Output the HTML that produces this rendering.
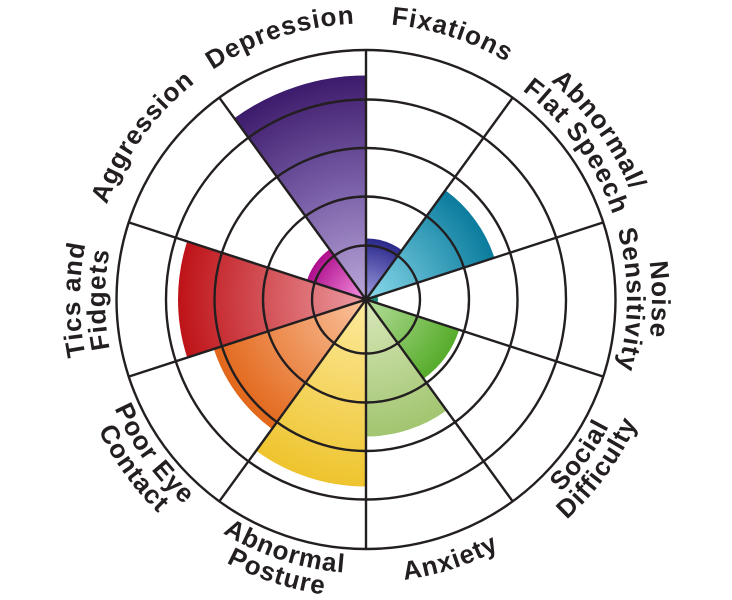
<!DOCTYPE html>
<html>
<head>
<meta charset="utf-8">
<style>
  html,body{margin:0;padding:0;background:#fff;}
  svg{display:block;}
  .lbl{font-family:"Liberation Sans",Arial,sans-serif;font-weight:bold;font-size:26px;fill:#231f20;letter-spacing:1px;}
</style>
</head>
<body>
<svg width="732" height="600" viewBox="0 0 732 600" xmlns="http://www.w3.org/2000/svg">
  <defs>
    <radialGradient id="gPur" gradientUnits="userSpaceOnUse" cx="366" cy="299.5" r="224">
      <stop offset="0" stop-color="#bba8d9"/>
      <stop offset="0.5" stop-color="#7b61a9"/>
      <stop offset="1" stop-color="#3d1b6c"/>
    </radialGradient>
    <radialGradient id="gInd" gradientUnits="userSpaceOnUse" cx="366" cy="299.5" r="61">
      <stop offset="0" stop-color="#a09ee2"/>
      <stop offset="1" stop-color="#2a288a"/>
    </radialGradient>
    <radialGradient id="gTeal" gradientUnits="userSpaceOnUse" cx="366" cy="299.5" r="135">
      <stop offset="0" stop-color="#8cdaec"/>
      <stop offset="1" stop-color="#0a7c9d"/>
    </radialGradient>
    <radialGradient id="gGrn" gradientUnits="userSpaceOnUse" cx="366" cy="299.5" r="98">
      <stop offset="0" stop-color="#b6de9c"/>
      <stop offset="1" stop-color="#56ac2a"/>
    </radialGradient>
    <radialGradient id="gLgr" gradientUnits="userSpaceOnUse" cx="366" cy="299.5" r="137">
      <stop offset="0" stop-color="#d9e8bb"/>
      <stop offset="1" stop-color="#a2c570"/>
    </radialGradient>
    <radialGradient id="gYel" gradientUnits="userSpaceOnUse" cx="366" cy="299.5" r="187">
      <stop offset="0" stop-color="#fdea9e"/>
      <stop offset="1" stop-color="#eec42e"/>
    </radialGradient>
    <radialGradient id="gOra" gradientUnits="userSpaceOnUse" cx="366" cy="299.5" r="160">
      <stop offset="0" stop-color="#fbc39e"/>
      <stop offset="1" stop-color="#e2671a"/>
    </radialGradient>
    <radialGradient id="gRed" gradientUnits="userSpaceOnUse" cx="366" cy="299.5" r="188">
      <stop offset="0" stop-color="#ec9ca2"/>
      <stop offset="1" stop-color="#be1318"/>
    </radialGradient>
    <radialGradient id="gMag" gradientUnits="userSpaceOnUse" cx="366" cy="299.5" r="62">
      <stop offset="0" stop-color="#f796e2"/>
      <stop offset="1" stop-color="#ae0e8c"/>
    </radialGradient>

    <path id="cw276" d="M 126.98 161.5 A 276 276 0 0 1 605.02 161.5"/>
    <path id="cw261" d="M 139.97 169 A 261 261 0 0 1 592.03 169"/>
    <path id="cw286" d="M 118.32 156.5 A 286 286 0 0 1 613.68 156.5"/>
    <path id="ccw283" d="M 120.92 441 A 283 283 0 0 0 611.08 441"/>
    <path id="ccw274" d="M 128.72 436.5 A 274 274 0 0 0 603.28 436.5"/>
    <path id="ccw298" d="M 107.93 448.5 A 298 298 0 0 0 624.07 448.5"/>
  </defs>

  <!-- wedges -->
  <path d="M366 299.5 L234.33 118.28 A224 224 0 0 1 366 75.5 Z" fill="url(#gPur)"/>
  <path d="M366 299.5 L366 238.5 A61 61 0 0 1 401.86 250.15 Z" fill="url(#gInd)"/>
  <path d="M366 299.5 L445.35 190.3 A135 135 0 0 1 494.4 257.8 Z" fill="url(#gTeal)"/>
  <path d="M366 299.5 L377.41 295.79 A12 12 0 0 1 377.41 303.21 Z" fill="#1f8a7a"/>
  <path d="M366 299.5 L459.2 329.78 A98 98 0 0 1 423.6 378.78 Z" fill="url(#gGrn)"/>
  <path d="M366 299.5 L446.53 410.33 A137 137 0 0 1 366 436.5 Z" fill="url(#gLgr)"/>
  <path d="M366 299.5 L366 486.5 A187 187 0 0 1 256.08 450.78 Z" fill="url(#gYel)"/>
  <path d="M366 299.5 L271.95 428.94 A160 160 0 0 1 213.82 348.94 Z" fill="url(#gOra)"/>
  <path d="M366 299.5 L187.2 357.59 A188 188 0 0 1 187.2 241.41 Z" fill="url(#gRed)"/>
  <path d="M366 299.5 L307.03 280.34 A62 62 0 0 1 329.56 249.34 Z" fill="url(#gMag)"/>

  <!-- grid -->
  <g fill="none" stroke="#231f20" stroke-width="2.4">
    <circle cx="366" cy="299.5" r="54"/>
    <circle cx="366" cy="299.5" r="103"/>
    <circle cx="366" cy="299.5" r="151.5"/>
    <circle cx="366" cy="299.5" r="200"/>
    <circle cx="366" cy="299.5" r="249.5"/>
    <line x1="366" y1="50" x2="366" y2="549"/>
    <line x1="512.66" y1="97.65" x2="219.34" y2="501.35"/>
    <line x1="603.3" y1="222.4" x2="128.7" y2="376.6"/>
    <line x1="603.3" y1="376.6" x2="128.7" y2="222.4"/>
    <line x1="512.66" y1="501.35" x2="219.34" y2="97.65"/>
  </g>
  <circle cx="366" cy="299.5" r="3" fill="#231f20"/>

  <!-- labels -->
  <g class="lbl">
    <text transform="rotate(-18 366 299.5)"><textPath href="#cw276" startOffset="50%" text-anchor="middle">Depression</textPath></text>
    <text transform="rotate(18 366 299.5)"><textPath href="#cw276" startOffset="50%" text-anchor="middle">Fixations</textPath></text>

    <text transform="rotate(54 366 299.5)"><textPath href="#cw286" startOffset="50%" text-anchor="middle">Abnormal/</textPath></text>
    <text transform="rotate(54 366 299.5)"><textPath href="#cw261" startOffset="50%" text-anchor="middle">Flat Speech</textPath></text>

    <text transform="rotate(90 366 299.5)"><textPath href="#cw286" startOffset="50%" text-anchor="middle">Noise</textPath></text>
    <text transform="rotate(90 366 299.5)"><textPath href="#cw261" startOffset="50%" text-anchor="middle">Sensitivity</textPath></text>

    <text transform="rotate(-54 366 299.5)"><textPath href="#ccw274" startOffset="50%" text-anchor="middle">Social</textPath></text>
    <text transform="rotate(-54 366 299.5)"><textPath href="#ccw298" startOffset="50%" text-anchor="middle">Difficulty</textPath></text>

    <text transform="rotate(-18 366 299.5)"><textPath href="#ccw283" startOffset="50%" text-anchor="middle">Anxiety</textPath></text>

    <text transform="rotate(18 366 299.5)"><textPath href="#ccw274" startOffset="50%" text-anchor="middle">Abnormal</textPath></text>
    <text transform="rotate(18 366 299.5)"><textPath href="#ccw298" startOffset="50%" text-anchor="middle">Posture</textPath></text>

    <text transform="rotate(54 366 299.5)"><textPath href="#ccw274" startOffset="50%" text-anchor="middle">Poor Eye</textPath></text>
    <text transform="rotate(54 366 299.5)"><textPath href="#ccw298" startOffset="50%" text-anchor="middle">Contact</textPath></text>

    <text transform="rotate(-90 366 299.5)"><textPath href="#cw286" startOffset="50%" text-anchor="middle">Tics and</textPath></text>
    <text transform="rotate(-90 366 299.5)"><textPath href="#cw261" startOffset="50%" text-anchor="middle">Fidgets</textPath></text>

    <text transform="rotate(-54 366 299.5)"><textPath href="#cw276" startOffset="50%" text-anchor="middle">Aggression</textPath></text>
  </g>
</svg>
</body>
</html>
